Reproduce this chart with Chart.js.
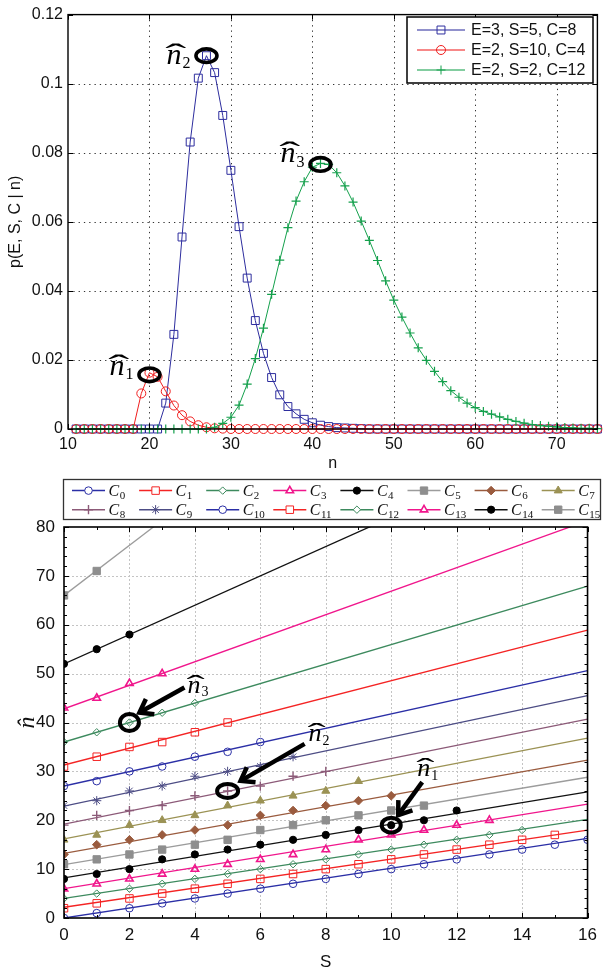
<!DOCTYPE html>
<html><head><meta charset="utf-8">
<script src="https://cdn.jsdelivr.net/npm/chart.js@4.4.1/dist/chart.umd.min.js"></script>
<style>
html,body{margin:0;padding:0;background:#fff;}
#wrap{position:relative;width:604px;height:975px;overflow:hidden;background:#fff;}
canvas{position:absolute;left:0;}
</style></head><body>
<div id="wrap">
<canvas id="topChart" width="604" height="475" style="top:0;width:604px;height:475px"></canvas>
<canvas id="botChart" width="604" height="500" style="top:475px;width:604px;height:500px"></canvas>
</div>
<script>
// ===== Top chart data =====
const nValues = [11,12,13,14,15,16,17,18,19,20,
  21,22,23,24,25,26,27,28,29,30,
  31,32,33,34,35,36,37,38,39,40,
  41,42,43,44,45,46,47,48,49,50,
  51,52,53,54,55,56,57,58,59,60,
  61,62,63,64,65,66,67,68,69,70,
  71,72,73,74,75];
const pE3S5C8 = [0,0,0,0,0,0,0,0,0,0,
  0,0.0075,0.0274,0.0556,0.0831,0.1016,0.1081,0.1032,0.0908,0.0749,
  0.0586,0.0437,0.0314,0.0219,0.0149,0.0099,0.0065,0.0044,0.0028,0.0018,
  0.0011,0.0007,0.0004,0.0003,0.0002,0.0001,0,0,0,0,
  0,0,0,0,0,0,0,0,0,0,
  0,0,0,0,0,0,0,0,0,0,
  0,0,0,0,0];
const pE2S10C4 = [0,0,0,0,0,0,0,0,0.0103,0.0163,
  0.0151,0.0109,0.0068,0.0040,0.0022,0.0011,0.0005,0.0002,0.0001,0,
  0,0,0,0,0,0,0,0,0,0,
  0,0,0,0,0,0,0,0,0,0,
  0,0,0,0,0,0,0,0,0,0,
  0,0,0,0,0,0,0,0,0,0,
  0,0,0,0,0];
const pE2S2C12 = [0,0,0,0,0,0,0,0,0,0,
  0,0,0,0,0,0,0,0.0005,0.0016,0.0034,
  0.0069,0.0130,0.0204,0.0292,0.0390,0.0489,0.0583,0.0660,0.0716,0.0758,
  0.0769,0.0766,0.0742,0.0704,0.0657,0.0602,0.0546,0.0488,0.0429,0.0373,
  0.0324,0.0278,0.0235,0.0199,0.0167,0.0137,0.0111,0.0092,0.0075,0.0062,
  0.0051,0.0043,0.0035,0.0028,0.0022,0.0017,0.0013,0.0010,0.0008,0.0006,
  0.0004,0.0003,0.0002,0.0002,0.0001];
const topLabels = ['E=3, S=5, C=8', 'E=2, S=10, C=4', 'E=2, S=2, C=12'];
// peak annotations (n, p)
const peakN = [20, 27, 41];
const peakP = [0.0157, 0.1081, 0.0766];
const peakSub = ['1', '2', '3'];

// ===== Bottom chart data =====
const S = [0,1,2,3,4,5,6,7,8,9,10,11,12,13,14,15,16];
const C0 = [0,1,2,3,4,5,6,7,8,9,10,11,12,13,14,15,16];
const C1 = [2,3,4,5,6,7,8,9,10,11,12,13,14,15,16,17];
const C2 = [4,5,6,7,8,9,10,11,12,13,14,15,16,17,18];
const C3 = [6,7,8,9,10,11,12,13,14,16,17,18,19,20];
const C4 = [8,9,10,12,13,14,15,16,17,18,19,20,22];
const C5 = [11,12,13,14,15,16,18,19,20,21,22,23];
const C6 = [13,15,16,17,18,19,21,22,23,24,25];
const C7 = [16,17,19,20,21,23,24,25,26,28];
const C8 = [19,21,22,23,25,26,27,29,30];
const C9 = [23,24,26,27,29,30,31,33];
const C10 = [27,28,30,31,33,34,36];
const C11 = [31,33,35,36,38,40];
const C12 = [36,38,40,42,44];
const C13 = [43,45,48,50];
const C14 = [52,55,58];
const C15 = [66,71];
// fitted line values at S=0 and S=16
const lineAtS0  = [0, 2.2, 4, 6, 8.2, 10.9, 13.2, 16.2, 19.2, 22.9, 27, 31.3, 36, 42.8, 52, 66];
const lineAtS16 = [16.3, 18, 20.2, 23.3, 25.8, 28.8, 32.3, 36.8, 40.7, 45.5, 50.6, 58.9, 67.9, 81.3, 100, 148];
// annotated estimates (S, n-hat)
const markS = [10, 5, 2];
const markN = [19, 26, 40];
const markSub = ['1', '2', '3'];

const seriesVals = [C0,C1,C2,C3,C4,C5,C6,C7,C8,C9,C10,C11,C12,C13,C14,C15];

// ===== styles =====
const SANS = '"Liberation Sans", Arial, Helvetica, sans-serif';
const SERIF = '"Liberation Serif", "DejaVu Serif", serif';
const topColors = ['#2d2d9e', '#f01e1e', '#14a04c'];
const palette  = ['#2b2fa6','#f42424','#3d8a5e','#f0168c','#000000','#8e8e8e','#9a5b3e','#9b9254','#8c5a78','#4d4d85'];
const lineCols = ['#2b2fa6','#f42424','#3d8a5e','#f0168c','#111111','#9c9c9c','#9a5b3e','#9b9254','#8c5a78','#4d4d85'];
const mStyles = [
  {ps:'circle', r:3.8, fill:false, bw:1},
  {ps:'rect', r:5.3, fill:false, bw:1},
  {ps:'rectRot', r:3.7, fill:false, bw:1},
  {ps:'triangle', r:4.3, fill:false, bw:1.6},
  {ps:'circle', r:3.6, fill:true, bw:1},
  {ps:'rect', r:5.2, fill:true, bw:1},
  {ps:'rectRot', r:4.3, fill:true, bw:1},
  {ps:'triangle', r:4.6, fill:true, bw:1},
  {ps:'cross', r:4.6, fill:false, bw:1.4},
  {ps:'star', r:4.6, fill:false, bw:1}
];

function drawMarker(ctx, style, r, x, y, bw) {
  if (Chart.helpers && Chart.helpers.drawPoint) {
    Chart.helpers.drawPoint(ctx, {pointStyle: style, radius: r, rotation: 0, borderWidth: bw}, x, y);
  } else {
    ctx.beginPath(); ctx.arc(x, y, r, 0, Math.PI*2); ctx.fill(); ctx.stroke();
  }
}

function hatN(ctx, x, y, sub, fs) {
  ctx.save();
  ctx.fillStyle = '#000';
  ctx.textAlign = 'left'; ctx.textBaseline = 'alphabetic';
  ctx.font = 'italic ' + fs + 'px ' + SERIF;
  ctx.fillText('n', x, y);
  const w = ctx.measureText('n').width;
  ctx.save();
  ctx.translate(x + w * 0.62, y);
  ctx.scale(2.1, 1);
  ctx.textAlign = 'center';
  ctx.font = fs + 'px ' + SERIF;
  ctx.fillText('\u02C6', 0, 0);
  ctx.restore();
  ctx.font = Math.round(fs * 0.52) + 'px ' + SERIF;
  ctx.fillText(sub, x + w + 1, y + fs * 0.14);
  ctx.restore();
}

function ring(ctx, cx, cy, rx, ry, lw) {
  ctx.save();
  ctx.strokeStyle = '#000'; ctx.lineWidth = lw; ctx.setLineDash([]);
  ctx.beginPath(); ctx.ellipse(cx, cy, rx, ry, 0, 0, Math.PI * 2); ctx.stroke();
  ctx.restore();
}

function arrow(ctx, x1, y1, x2, y2) {
  ctx.save();
  ctx.strokeStyle = '#000'; ctx.lineWidth = 4.5; ctx.lineCap = 'butt'; ctx.lineJoin = 'miter';
  ctx.beginPath(); ctx.moveTo(x1, y1); ctx.lineTo(x2, y2); ctx.stroke();
  const ang = Math.atan2(y2 - y1, x2 - x1);
  const L = 15, sp = 0.62;
  ctx.beginPath();
  ctx.moveTo(x2 - L * Math.cos(ang - sp), y2 - L * Math.sin(ang - sp));
  ctx.lineTo(x2, y2);
  ctx.lineTo(x2 - L * Math.cos(ang + sp), y2 - L * Math.sin(ang + sp));
  ctx.stroke();
  ctx.restore();
}

function hLine(ctx, x1, x2, y) { ctx.beginPath(); ctx.moveTo(x1, y); ctx.lineTo(x2, y); ctx.stroke(); }
function vLine(ctx, x, y1, y2) { ctx.beginPath(); ctx.moveTo(x, y1); ctx.lineTo(x, y2); ctx.stroke(); }

// ===== Top chart decorations =====
const topDecor = {
  id: 'topDecor',
  beforeDatasetsDraw(chart) {
    const {ctx, chartArea: a, scales: {x, y}} = chart;
    ctx.save();
    ctx.strokeStyle = '#333'; ctx.lineWidth = 1; ctx.setLineDash([1.3, 4]);
    x.ticks.forEach(t => {
      const px = Math.round(x.getPixelForValue(t.value)) + 0.5;
      if (px > a.left + 2 && px < a.right - 2) vLine(ctx, px, a.top, a.bottom);
    });
    y.ticks.forEach(t => {
      const py = Math.round(y.getPixelForValue(t.value)) + 0.5;
      if (py > a.top + 2 && py < a.bottom - 2) hLine(ctx, a.left, a.right, py);
    });
    ctx.restore();
  },
  afterDatasetsDraw(chart) {
    const {ctx, chartArea: a, scales: {x, y}} = chart;
    ctx.save();
    ctx.strokeStyle = '#000'; ctx.lineWidth = 1.4; ctx.setLineDash([]);
    ctx.strokeRect(a.left, a.top, a.right - a.left, a.bottom - a.top);
    ctx.lineWidth = 1;
    x.ticks.forEach(t => {
      const px = Math.round(x.getPixelForValue(t.value)) + 0.5;
      vLine(ctx, px, a.bottom, a.bottom - 5); vLine(ctx, px, a.top, a.top + 5);
    });
    y.ticks.forEach(t => {
      const py = Math.round(y.getPixelForValue(t.value)) + 0.5;
      hLine(ctx, a.left, a.left + 5, py); hLine(ctx, a.right, a.right - 5, py);
    });
    ctx.restore();
    // peak rings + labels
    const labOff = [[-40, 0], [-40, 8], [-40, -2]];
    for (let i = 0; i < peakN.length; i++) {
      const cx = x.getPixelForValue(peakN[i]), cy = y.getPixelForValue(peakP[i]);
      ring(ctx, cx, cy, 10.5, 6.8, 3.6);
      hatN(ctx, cx + labOff[i][0], cy + labOff[i][1], peakSub[i], 30);
    }
    // legend
    ctx.save();
    const bx = 407, by = 17, bw = 186, bh = 66;
    ctx.fillStyle = '#fff'; ctx.fillRect(bx, by, bw, bh);
    ctx.strokeStyle = '#000'; ctx.lineWidth = 1.5; ctx.strokeRect(bx, by, bw, bh);
    const ds = chart.data.datasets;
    for (let i = 0; i < 3; i++) {
      const yy = 30 + i * 20;
      ctx.globalAlpha = 0.7;
      ctx.strokeStyle = topColors[i]; ctx.lineWidth = 1.5;
      hLine(ctx, 417, 465, yy);
      ctx.globalAlpha = 1;
      ctx.lineWidth = 1;
      ctx.fillStyle = 'rgba(0,0,0,0)';
      drawMarker(ctx, ds[i].pointStyle, ds[i].pointRadius, 441, yy, 1);
      ctx.fillStyle = '#111';
      ctx.font = '16px ' + SANS; ctx.textAlign = 'left'; ctx.textBaseline = 'middle';
      ctx.fillText(topLabels[i], 471, yy + 1);
    }
    ctx.restore();
  }
};

const xy = (xs, ys) => ys.map((v, i) => ({x: xs[i], y: v}));

new Chart(document.getElementById('topChart'), {
  type: 'scatter',
  data: {
    datasets: [
      {label: topLabels[0], data: xy(nValues, pE3S5C8), showLine: true, borderColor: topColors[0], borderWidth: 1,
       pointStyle: 'rect', pointRadius: 5.6, pointBorderColor: topColors[0], pointBackgroundColor: 'rgba(0,0,0,0)', pointBorderWidth: 1, clip: false, order: 3},
      {label: topLabels[1], data: xy(nValues, pE2S10C4), showLine: true, borderColor: topColors[1], borderWidth: 1,
       pointStyle: 'circle', pointRadius: 4.5, pointBorderColor: topColors[1], pointBackgroundColor: 'rgba(0,0,0,0)', pointBorderWidth: 1, clip: false, order: 2},
      {label: topLabels[2], data: xy(nValues, pE2S2C12), showLine: true, borderColor: topColors[2], borderWidth: 1,
       pointStyle: 'cross', pointRadius: 4.5, pointBorderColor: topColors[2], pointBackgroundColor: 'rgba(0,0,0,0)', pointBorderWidth: 1.2, clip: false, order: 1}
    ]
  },
  options: {
    responsive: false, animation: false, devicePixelRatio: 1, events: [],
    layout: {padding: {left: 0, right: 2, top: 9, bottom: 0}},
    plugins: {legend: {display: false}, tooltip: {enabled: false}},
    scales: {
      x: {type: 'linear', min: 10, max: 75,
        afterFit(s) { s.height = 46; },
        grid: {display: false, drawTicks: false}, border: {display: false},
        ticks: {stepSize: 10, includeBounds: false, padding: 6, maxRotation: 0, color: '#111', font: {family: SANS, size: 16}},
        title: {display: true, text: 'n', color: '#111', font: {family: SANS, size: 16}, padding: {top: 0, bottom: 2}}},
      y: {type: 'linear', min: 0, max: 0.12,
        afterFit(s) { s.width = 68; },
        grid: {display: false, drawTicks: false}, border: {display: false},
        ticks: {stepSize: 0.02, padding: 5, color: '#111', font: {family: SANS, size: 16}, callback: v => String(+(+v).toFixed(2))},
        title: {display: true, text: 'p(E, S, C | n)', color: '#111', font: {family: SANS, size: 16}, padding: {top: 6, bottom: 0}}}
    }
  },
  plugins: [topDecor]
});

// ===== Bottom chart =====
const botDecor = {
  id: 'botDecor',
  beforeDatasetsDraw(chart) {
    const {ctx, chartArea: a, scales: {x, y}} = chart;
    ctx.save();
    ctx.strokeStyle = '#c4c4c4'; ctx.lineWidth = 1; ctx.setLineDash([2, 2]);
    x.ticks.forEach(t => {
      const px = Math.round(x.getPixelForValue(t.value)) + 0.5;
      if (px > a.left + 2 && px < a.right - 2) vLine(ctx, px, a.top, a.bottom);
    });
    y.ticks.forEach(t => {
      const py = Math.round(y.getPixelForValue(t.value)) + 0.5;
      if (py > a.top + 2 && py < a.bottom - 2) hLine(ctx, a.left, a.right, py);
    });
    ctx.restore();
  },
  afterDatasetsDraw(chart) {
    const {ctx, chartArea: a, scales: {x, y}} = chart;
    ctx.save();
    ctx.strokeStyle = '#000'; ctx.setLineDash([]);
    ctx.lineWidth = 1;
    for (let v = x.min; v <= x.max; v += 1) {
      const px = Math.round(x.getPixelForValue(v)) + 0.5;
      const L = (v % 2 === 0) ? 5 : 3;
      vLine(ctx, px, a.bottom, a.bottom - L); vLine(ctx, px, a.top, a.top + L);
    }
    for (let v = y.min; v <= y.max; v += 2) {
      const py = Math.round(y.getPixelForValue(v)) + 0.5;
      const L = (v % 10 === 0) ? 5 : 3;
      hLine(ctx, a.left, a.left + L, py); hLine(ctx, a.right, a.right - L, py);
    }
    ctx.lineWidth = 1.6;
    ctx.strokeRect(a.left, a.top, a.right - a.left, a.bottom - a.top);
    ctx.restore();
    // annotations
    const lab = [[26, -49], [81, -50], [58, -30]];
    const tail = [[31, -43], [77, -47], [55, -35]];
    const tip = [[7, -10], [13, -10], [10, -10]];
    const rr = [[9.5, 7.5], [10.5, 7], [9.5, 8.5]];
    for (let i = 0; i < markS.length; i++) {
      const cx = x.getPixelForValue(markS[i]), cy = y.getPixelForValue(markN[i]);
      ring(ctx, cx, cy, rr[i][0], rr[i][1], 4);
      arrow(ctx, cx + tail[i][0], cy + tail[i][1], cx + tip[i][0], cy + tip[i][1]);
      hatN(ctx, cx + lab[i][0], cy + lab[i][1], markSub[i], 26);
    }
    // legend
    ctx.save();
    const bx = 63.5, by = 4.5, bw = 537, bh = 40;
    ctx.fillStyle = '#fff'; ctx.fillRect(bx, by, bw, bh);
    ctx.strokeStyle = '#333'; ctx.lineWidth = 1.3; ctx.strokeRect(bx, by, bw, bh);
    for (let k = 0; k < 16; k++) {
      const si = k < 10 ? k : k - 10;
      const st = mStyles[si];
      const col = k % 8, row = Math.floor(k / 8);
      const x0 = 72 + col * 67.1, y0 = row ? 34.7 : 15.6;
      ctx.strokeStyle = lineCols[si]; ctx.lineWidth = 1.5;
      hLine(ctx, x0, x0 + 33, y0);
      ctx.strokeStyle = palette[si]; ctx.lineWidth = st.bw;
      ctx.fillStyle = st.fill ? palette[si] : '#fff';
      drawMarker(ctx, st.ps, st.r, x0 + 16.5, y0, st.bw);
      ctx.fillStyle = '#111'; ctx.textAlign = 'left'; ctx.textBaseline = 'alphabetic';
      ctx.font = 'italic 16px ' + SERIF;
      ctx.fillText('C', x0 + 36.5, y0 + 5);
      const wc = ctx.measureText('C').width;
      ctx.font = '11px ' + SERIF;
      ctx.fillText(String(k), x0 + 36.5 + wc + 0.5, y0 + 8.5);
    }
    ctx.restore();
  }
};

const botDatasets = [];
for (let k = 0; k < 16; k++) {
  const si = k < 10 ? k : k - 10;
  const st = mStyles[si];
  botDatasets.push({
    data: seriesVals[k].map((v, i) => ({x: S[i], y: v})),
    showLine: false, pointStyle: st.ps, pointRadius: st.r,
    pointBorderColor: palette[si], pointBackgroundColor: st.fill ? palette[si] : 'rgba(0,0,0,0)',
    pointBorderWidth: st.bw, clip: 0, order: 0
  });
  botDatasets.push({
    data: [{x: S[0], y: lineAtS0[k]}, {x: S[S.length - 1], y: lineAtS16[k]}],
    showLine: true, pointRadius: 0, borderColor: lineCols[si], borderWidth: 1.3, clip: 0, order: 1
  });
}

new Chart(document.getElementById('botChart'), {
  type: 'scatter',
  data: {datasets: botDatasets},
  options: {
    responsive: false, animation: false, devicePixelRatio: 1, events: [],
    layout: {padding: {left: 0, right: 4, top: 52, bottom: 0}},
    plugins: {legend: {display: false}, tooltip: {enabled: false}},
    scales: {
      x: {type: 'linear', min: 0, max: 16,
        afterFit(s) { s.height = 57; },
        grid: {display: false, drawTicks: false}, border: {display: false},
        ticks: {stepSize: 2, padding: 7, maxRotation: 0, color: '#111', font: {family: SANS, size: 17}},
        title: {display: true, text: 'S', color: '#111', font: {family: SANS, size: 17}, padding: {top: 0, bottom: 2}}},
      y: {type: 'linear', min: 0, max: 80,
        afterFit(s) { s.width = 64; },
        grid: {display: false, drawTicks: false}, border: {display: false},
        ticks: {stepSize: 10, padding: 9, color: '#111', font: {family: SANS, size: 17}},
        title: {display: true, text: 'n\u0302', color: '#111', font: {family: SERIF, style: 'italic', size: 24}, padding: {top: 13, bottom: 0}}}
    }
  },
  plugins: [botDecor]
});
</script>
</body></html>
